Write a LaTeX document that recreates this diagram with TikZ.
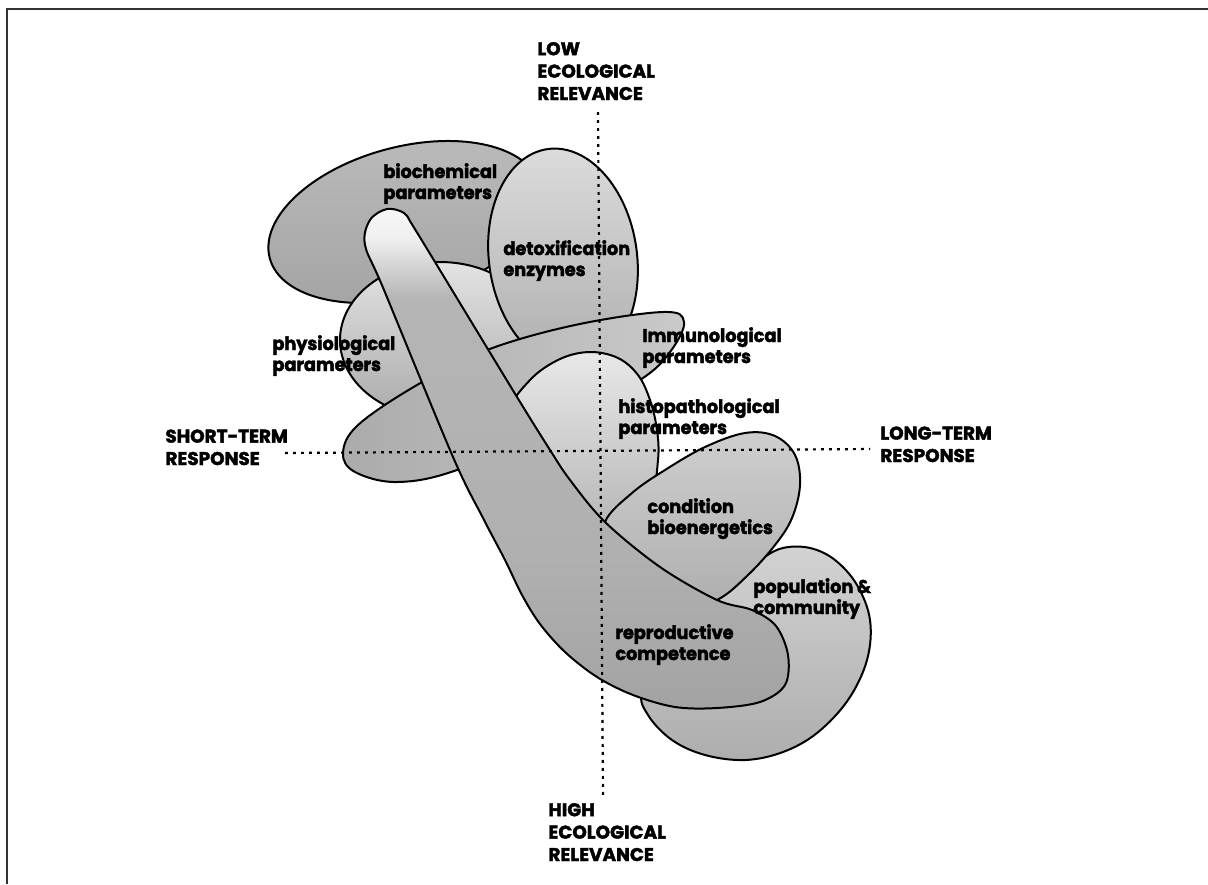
\documentclass[tikz,border=0pt]{standalone}
\usepackage{fontspec}
\setmainfont{Poppins}[BoldFeatures={FakeBold=2.2}]
\newfontfamily\labfont{Poppins}[BoldFeatures={FakeBold=2.2, FakeStretch=0.96}]
\pgfdeclareverticalshading{tubeshade}{100bp}{color(0bp)=(gray!74); color(25bp)=(gray!72); color(40bp)=(gray!62); color(66bp)=(gray!58); color(72bp)=(gray!12); color(75bp)=(gray!6); color(100bp)=(gray!6)}
\begin{document}
\begin{tikzpicture}[x=0.5pt,y=-0.5pt,
  outl/.style={draw=black, line width=1pt},
  axisline/.style={line width=1.1pt, dash pattern=on 1.4pt off 2.6pt},
  lab/.style={font=\labfont\bfseries\fontsize{9.2}{10.5}\selectfont, anchor=base west, align=left, inner sep=0pt},
  axlab/.style={font=\bfseries\fontsize{9.2}{11.2}\selectfont, anchor=base west, align=left, inner sep=0pt}]
\useasboundingbox (0,0) rectangle (1208,884);
% frame
\coordinate (fbl) at (7,884); \coordinate (ftl) at (7,9); \coordinate (ftr) at (1208,9);
\draw[line width=1.3pt, black!80] (fbl) -- (ftl) -- (ftr);
% shapes, back to front
\shadedraw[outl, top color=gray!55, bottom color=gray!72, rotate around={15:(405,222)}] (405,222) ellipse [x radius=140, y radius=75];
\shadedraw[outl, top color=gray!22, bottom color=gray!66] (440,340) ellipse [x radius=100, y radius=78];
\shadedraw[outl, top color=gray!28, bottom color=gray!64, rotate around={8:(563,258)}] (563,258) ellipse [x radius=74, y radius=110];
\shadedraw[outl, left color=gray!66, right color=gray!42] plot[smooth cycle, tension=0.6] coordinates {(343,453) (358,425) (417,385) (487,350) (575,325) (663,312) (684,322) (670,352) (640,380) (560,425) (457,470) (397,482) (355,472)};
\shadedraw[outl, top color=gray!18, bottom color=gray!60] plot[smooth cycle, tension=0.6] coordinates {(508,415) (530,380) (560,359) (590,352) (618,358) (638,375) (650,400) (657,430) (658,460) (650,500) (620,535) (580,540) (545,510) (518,465)};
\shadedraw[outl, top color=gray!35, bottom color=gray!64] plot[smooth cycle, tension=0.6] coordinates {(783,548) (810,548) (835,560) (857,585) (870,620) (867,660) (848,700) (817,733) (783,752) (745,760) (705,755) (672,740) (648,715) (642,690) (665,640) (720,590) (760,560)};
\shadedraw[outl, top color=gray!38, bottom color=gray!64] plot[smooth cycle, tension=0.6] coordinates {(605,522) (632,493) (665,470) (705,447) (745,433) (775,436) (795,455) (800,485) (792,518) (775,545) (748,575) (717,600) (675,612) (635,590) (608,555)};
\shadedraw[outl, shading=tubeshade] plot[smooth cycle, tension=0.55] coordinates {(387,209) (404,213) (413,226) (452,290) (517,397) (550,450) (570,480) (605,522) (660,567) (717,600) (752,610) (776,626) (788,655) (785,685) (760,702) (717,708) (675,707) (633,695) (597,677) (565,652) (540,624) (522,595) (505,560) (483,518) (453,457) (384,290) (365,245) (370,220)};
% axes
\coordinate (vtop) at (598,112); \coordinate (vbot) at (603,795);
\coordinate (hleft) at (285,453); \coordinate (hright) at (870,449);
\draw[axisline] (vtop) -- (vbot);
\draw[axisline] (hleft) -- (hright);
% axis labels (anchored at the baseline of the last line)
\node[axlab] (low) at (537,100) {LOW\\ECOLOGICAL\\RELEVANCE};
\node[axlab] (high) at (548,861) {HIGH\\ECOLOGICAL\\RELEVANCE};
\node[axlab] (short) at (165,465) {SHORT-TERM\\RESPONSE};
\node[axlab] (long) at (880,462) {LONG-TERM\\RESPONSE};
% shape labels
\node[lab] (bio) at (383,199) {biochemical\\parameters};
\node[lab] (detox) at (503,276) {detoxification\\enzymes};
\node[lab] (phys) at (272,371) {physiological\\parameters};
\node[lab] (imm) at (642,363) {Immunological\\parameters};
\node[lab] (histo) at (618,434) {histopathological\\parameters};
\node[lab] (cond) at (647,534) {condition\\bioenergetics};
\node[lab] (pop) at (753,614) {population \&\\community};
\node[lab] (repro) at (615,660) {reproductive\\competence};
\end{tikzpicture}
\end{document}
